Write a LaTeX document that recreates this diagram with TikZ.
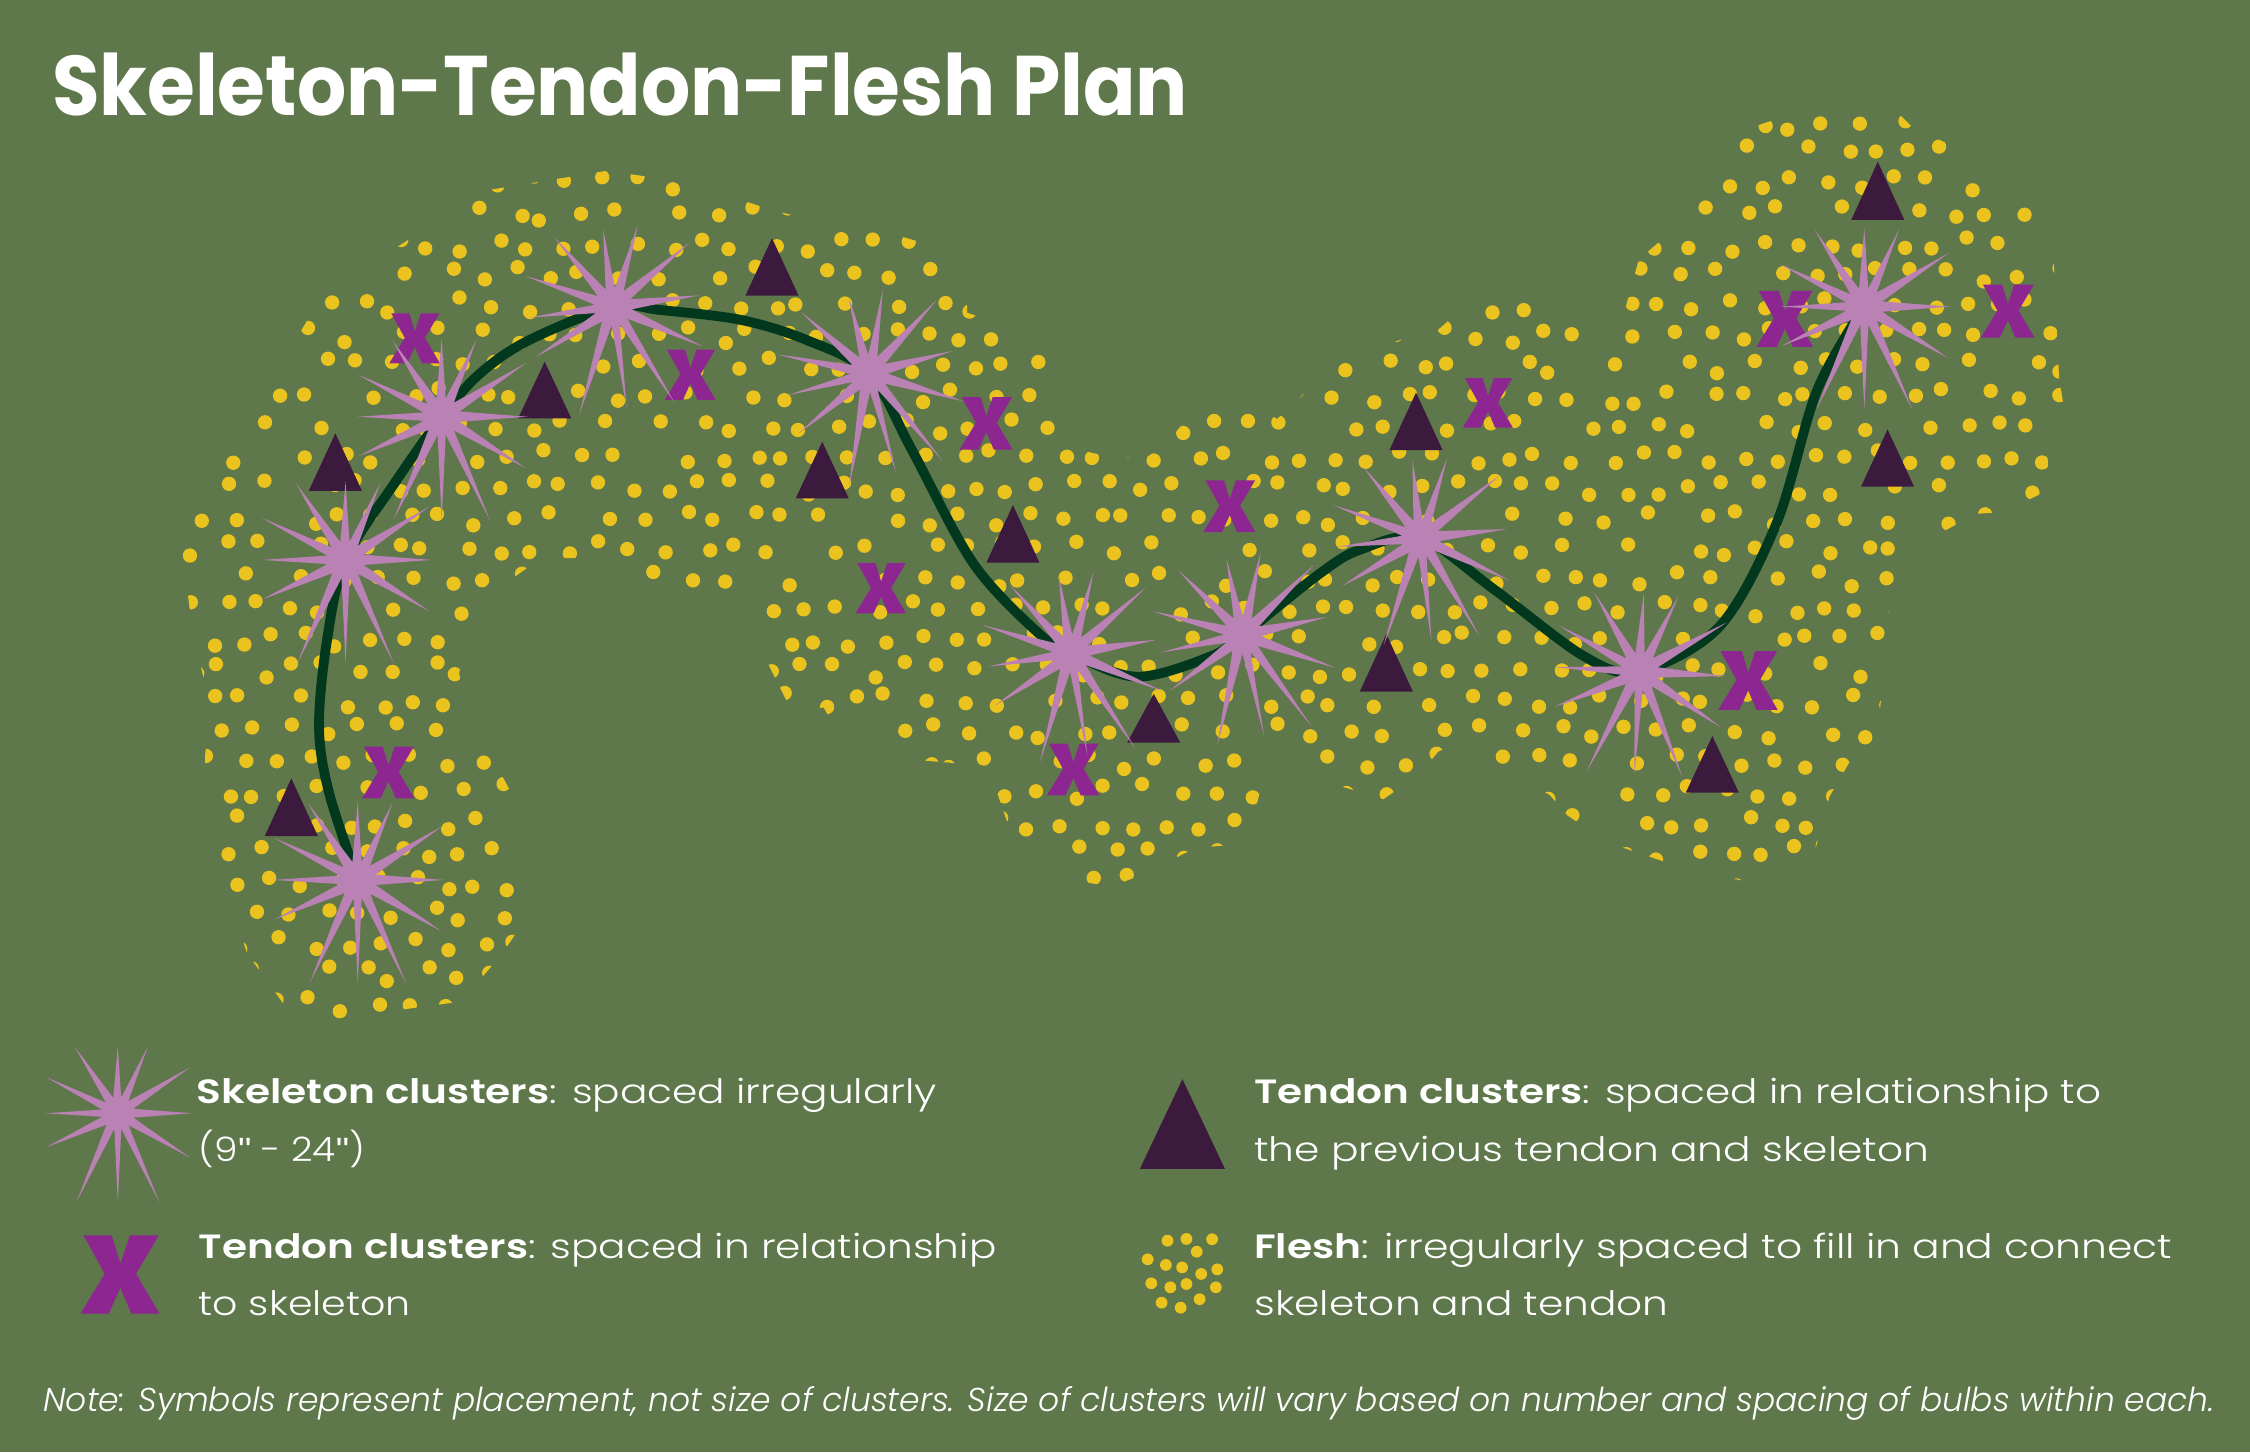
\documentclass[tikz,border=0pt]{standalone}
\usepackage{fontspec}
\setmainfont{Poppins}[UprightFont=* Light, ItalicFont=* Light Italic, BoldFont=* SemiBold]
\newfontfamily\titlefont{Poppins}[UprightFont=* Bold]
\newfontfamily\quotefont{Liberation Sans}
\usepackage{graphicx}
\definecolor{bgc}{HTML}{5F784B}
\definecolor{dotc}{HTML}{EAC31F}
\definecolor{starc}{HTML}{B981B4}
\definecolor{xc}{HTML}{8D2690}
\definecolor{tric}{HTML}{3B1A3D}
\definecolor{curvec}{HTML}{02391E}
\tikzset{
  fleshdot/.style={fill=dotc},
  bone/.style={draw=curvec, line width=6.8pt, line cap=round},
  txt/.style={anchor=base west, inner sep=0pt, text=white},
}
% skeleton star: name, x, y, rotation, scale
\newcommand\skelstar[5]{%
  \coordinate (#1) at (#2,#3);
  \begin{scope}[shift={(#2,#3)}, rotate=#4, scale=#5]
  \fill[starc]
    (154.6:64) -- (134.8:13) -- (115:79) -- (102.5:13) -- (90:72) -- (77.5:13)
    -- (65:79.5) -- (48.25:13) -- (31.5:68.5) -- (15.75:13) -- (0:60) -- (-16.2:13)
    -- (-32.4:69.5) -- (-49:13) -- (-65.7:59) -- (-77.85:13) -- (-90:54.5) -- (-106.5:13)
    -- (-122.9:63.5) -- (-138.1:13) -- (-153.3:65) -- (-166.7:13) -- (-180:58.5) -- (-192.7:13) -- cycle;
  \fill[starc] (0,0) circle (10.5);
  \end{scope}
}
% tendon X: name, x, y, size
\newcommand\tendx[4]{%
  \coordinate (#1) at (#2,#3);
  \fill[xc, shift={(#2,#3)}, scale=#4]
    (-0.47,-0.5) -- (-0.11,-0.5) -- (0,-0.14) -- (0.12,-0.5) -- (0.49,-0.5) -- (0.2,-0.01)
    -- (0.5,0.5) -- (0.14,0.5) -- (0,0.17) -- (-0.15,0.5) -- (-0.51,0.5) -- (-0.2,-0.01) -- cycle;
}
% tendon triangle: name, x, base y, height, width
\newcommand\tendtri[5]{%
  \coordinate (#1) at (#2,#3);
  \fill[tric] ({#2-#5/2},#3) -- (#2,{#3-#4}) -- ({#2+#5/2},#3) -- cycle;
}
\begin{document}
\begin{tikzpicture}[x=1pt,y=-1pt]
\fill[bgc] (0,0) rectangle (1568,1012);
\useasboundingbox (0,0) rectangle (1568,1012);

% ---------- flesh (dots) ----------
\pgfmathsetseed{2024}
\begin{scope}
\clip (172,664) -- (151,597) -- (143,557) -- (143,526) -- (146,490) -- (137,452) -- (133,431)
 -- (127,383) -- (133,355) -- (147,322) -- (160,293) -- (204,240) -- (221,212) -- (277,172)
 -- (337,133) -- (423,119) -- (478,127) -- (540,147) -- (574,155) -- (619,162) -- (642,169)
 -- (674,204) -- (674,218) -- (703,227) -- (732,247) -- (728,270) -- (731,290) -- (746,312)
 -- (767,317) -- (797,320) -- (812,310) -- (827,292) -- (854,281) -- (876,284) -- (890,292)
 -- (910,273) -- (920,260) -- (957,243) -- (982,235) -- (1001,231) -- (1021,213) -- (1067,203)
 -- (1089,217) -- (1106,235) -- (1125,243) -- (1142,181) -- (1158,167) -- (1175,159) -- (1179,143)
 -- (1192,132) -- (1206,105) -- (1217,90) -- (1259,76) -- (1292,69) -- (1307,69) -- (1321,77)
 -- (1333,89) -- (1355,99) -- (1382,109) -- (1398,127) -- (1421,150) -- (1430,164) -- (1432,195)
 -- (1433,222) -- (1435,264) -- (1438,282) -- (1424,303) -- (1427,320) -- (1429,341) -- (1395,357)
 -- (1378,358) -- (1349,373) -- (1331,390) -- (1318,408) -- (1311,487) -- (1307,520) -- (1293,524)
 -- (1275,555) -- (1264,596) -- (1227,616) -- (1179,607) -- (1120,587) -- (1092,568) -- (1080,554)
 -- (1028,526) -- (1020,515) -- (1002,524) -- (990,539) -- (964,557) -- (915,542) -- (898,531)
 -- (886,520) -- (873,572) -- (855,589) -- (833,591) -- (795,610) -- (774,618) -- (747,613)
 -- (724,599) -- (703,576) -- (693,547) -- (681,533) -- (643,530) -- (601,520) -- (585,513)
 -- (574,493) -- (552,496) -- (534,460) -- (526,423) -- (474,410) -- (452,404) -- (410,389)
 -- (377,389) -- (360,401) -- (330,421) -- (320,469) -- (326,508) -- (339,521) -- (360,559)
 -- (355,599) -- (366,641) -- (349,666) -- (321,698) -- (233,710) -- (200,703) -- cycle;
\foreach \j in {0,...,30}{
  \foreach \i in {0,...,55}{
    \pgfmathsetmacro\px{120+\i*23.8+mod(\j,2)*11.9+6.5*rand}
    \pgfmathsetmacro\py{64+\j*21.2+5.5*rand}
    \pgfmathtruncatemacro\keep{rnd<0.9}
    \ifnum\keep=1 \fill[fleshdot] (\px,\py) circle (5); \fi
  }
}
\end{scope}

% ---------- skeleton centres ----------
\coordinate (s1) at (240.8,390.2);
\coordinate (s2) at (307.8,290.4);
\coordinate (s3) at (427.4,213.7);
\coordinate (s4) at (605.7,260.2);
\coordinate (s5) at (746.5,455.3);
\coordinate (s6) at (866,442.5);
\coordinate (s7) at (990,375);
\coordinate (s8) at (1142.7,468);
\coordinate (s9) at (1299.2,213.7);
\coordinate (s10) at (249.3,613.2);

% ---------- skeleton line ----------
\draw[bone] plot[smooth, tension=0.55] coordinates {
 (s10) (229.4,552.8) (222.3,506.4) (227.9,446) (s1) (274.9,336.8) (s2) (334.6,260.2)
 (368.8,237) (s3) (459.8,216) (516.6,223) (562.2,237) (s4) (635.5,313.6) (678.3,392.6)
 (723.8,441.3) (s5) (792,471.6) (843.2,457.6) (s6) (920,399.5) (948,383) (s7)
 (1041.7,411.1) (1104.3,457.6) (s8) (1198.2,436.7) (1238,364.7) (1266.4,271.8) (s9)};

% ---------- tendon triangles ----------
\tendtri{t1}{233.7}{342}{40}{37}
\tendtri{t2}{379.6}{291.5}{39.5}{37}
\tendtri{t3}{538}{206}{40}{37}
\tendtri{t4}{573}{347.3}{39.5}{37}
\tendtri{t5}{705.9}{392.1}{40.2}{37}
\tendtri{t6}{986.8}{313.6}{40}{37}
\tendtri{t7}{1308.6}{153.3}{40.6}{37}
\tendtri{t8}{1315.4}{339.2}{40}{37}
\tendtri{t9}{966.1}{482}{40.2}{37}
\tendtri{t10}{804}{517.5}{34}{37}
\tendtri{t11}{1193.3}{552.4}{39.5}{37}
\tendtri{t12}{203}{582.6}{40.2}{37}

% ---------- tendon X ----------
\tendx{x1}{289.1}{235.8}{35}
\tendx{x2}{481.2}{261.1}{35}
\tendx{x3}{687.4}{295}{36.5}
\tendx{x4}{614}{410}{35}
\tendx{x5}{270.7}{538.3}{36}
\tendx{x6}{857}{352.8}{36}
\tendx{x7}{1037}{280.7}{34.5}
\tendx{x8}{748}{536.2}{36}
\tendx{x9}{1244}{222.2}{39}
\tendx{x10}{1399.3}{216.8}{37}
\tendx{x11}{1218.3}{474.2}{41}

% ---------- skeleton stars ----------
\skelstar{k1}{240.8}{390.2}{0}{1}
\skelstar{k2}{307.8}{290.4}{0}{1}
\skelstar{k3}{427.4}{213.7}{7.5}{1}
\skelstar{k4}{605.7}{260.2}{15}{1}
\skelstar{k5}{746.5}{455.3}{9}{1}
\skelstar{k6}{866}{442.5}{12}{1}
\skelstar{k7}{990}{375}{6}{1}
\skelstar{k8}{1142.7}{468}{-3}{1}
\skelstar{k9}{1299.2}{213.7}{0}{1}
\skelstar{k10}{249.3}{613.2}{0}{1}

% ---------- title ----------
\node[txt] (title) at (36.1,80.8) {\resizebox{791.6pt}{43.6pt}{\titlefont Skeleton-Tendon-Flesh Plan}};

% ---------- legend ----------
\skelstar{lgstar}{82.1}{775.8}{0}{0.86}
\tendx{lgx}{83.9}{888.2}{54.5}
\tendtri{lgtri}{824}{814.6}{62.6}{59.3}
\foreach \p/\q [count=\n] in {813.6/864.6, 826.8/863.4, 844.7/863.6, 834/872.3, 799.8/877.6,
  812.5/881.5, 823.8/883.2, 848.3/884.6, 837.1/887.8, 802.3/894.3, 815.6/897.1, 826.8/894.8,
  847.3/897.1, 809.5/907.8, 822.8/911.3, 836/905.4}
  \fill[fleshdot] (\p,\q) circle (4.1);

\node[txt] (l1) at (136.9,769.3) {\resizebox{515.7pt}{21.9pt}{\vphantom{(}\textbf{Skeleton clusters}: spaced irregularly}};
\node[txt] (l2) at (138.3,809.5) {\resizebox{115.9pt}{21.9pt}{\vphantom{(}(9{\quotefont\char"22} - 24{\quotefont\char"22})}};
\node[txt] (l3) at (138.3,876.9) {\resizebox{555.8pt}{21.9pt}{\vphantom{(}\textbf{Tendon clusters}: spaced in relationship}};
\node[txt] (l4) at (138.3,917) {\resizebox{147.7pt}{21.9pt}{\vphantom{(}to skeleton}};
\node[txt] (r1) at (873.9,769.3) {\resizebox{590.3pt}{21.9pt}{\vphantom{(}\textbf{Tendon clusters}: spaced in relationship to}};
\node[txt] (r2) at (873.9,809.5) {\resizebox{470.2pt}{21.9pt}{\vphantom{(}the previous tendon and skeleton}};
\node[txt] (r3) at (873.9,876.9) {\resizebox{639.8pt}{21.9pt}{\vphantom{(}\textbf{Flesh}: irregularly spaced to fill in and connect}};
\node[txt] (r4) at (873.9,917) {\resizebox{288.7pt}{21.9pt}{\vphantom{(}skeleton and tendon}};

% ---------- note ----------
\node[txt] (note) at (30,983.7) {\resizebox{1513pt}{21.5pt}{\vphantom{(}\itshape Note: Symbols represent placement, not size of clusters. Size of clusters will vary based on number and spacing of bulbs within each.}};
\end{tikzpicture}
\end{document}
